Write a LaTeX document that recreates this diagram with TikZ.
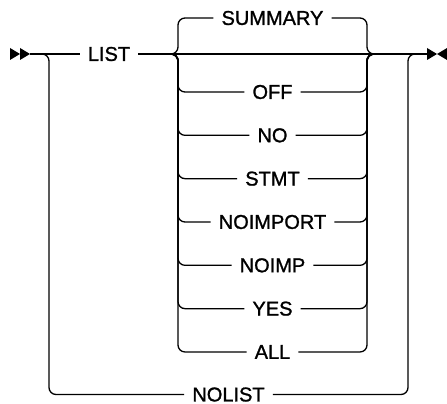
\documentclass[tikz,border=0pt]{standalone}
\usepackage{fontspec}
\newfontfamily\railfont{Liberation Sans}[FakeBold=1.2]
\usetikzlibrary{positioning}

\begin{document}
\begin{tikzpicture}[
  x=1pt, y=-1pt,
  font=\railfont\fontsize{20}{22}\selectfont,
  rail/.style={draw=black, line width=1.3pt, rounded corners=7pt},
  keyword/.style={inner xsep=8pt, inner ysep=0pt},
  marker/.style={fill=black}
]
  \useasboundingbox (0,0) rectangle (447,404);
  \coordinate (start) at (30,54);
  \coordinate (stop) at (427,54);
  \node[keyword] (list) at (109,54) {LIST};
  \node[keyword] (summary) at (272.5,18) {SUMMARY};
  \node[keyword] (nolist) at (228.5,394.5) {NOLIST};
  % main line
  \draw[rail] (start) -- (list.west);
  \draw[rail] (list.east) -- (stop);
  % default above the main line
  \draw[rail] (171,54) -- (178,54) -- (178,18) -- (summary.west);
  \draw[rail] (summary.east) -- (367,18) -- (367,54) -- (374,54);
  % choices below
  \foreach \opt [count=\i] in {OFF,NO,STMT,NOIMPORT,NOIMP,YES,ALL} {
    \pgfmathsetmacro\rowy{92+(\i-1)*43.33}
    \node[keyword] (opt\i) at (272.5,\rowy) {\opt};
    \draw[rail] (171,54) -- (178,54) -- (178,\rowy) -- (opt\i.west);
    \draw[rail] (opt\i.east) -- (367,\rowy) -- (367,54) -- (374,54);
  }
  % bypass
  \draw[rail] (31,54) -- (49,54) -- (49,394.5) -- (nolist.west);
  \draw[rail] (nolist.east) -- (408,394.5) -- (408,54) -- (426,54);
  % start and end markers
  \fill[marker] (start) -- ++(-10,-6) -- ++(0,12) -- cycle;
  \fill[marker] ([xshift=-10pt]start) -- ++(-10,-6) -- ++(0,12) -- cycle;
  \fill[marker] ([xshift=10pt]stop) -- ++(-10,-6) -- ++(0,12) -- cycle;
  \fill[marker] ([xshift=10pt]stop) -- ++(10,-6) -- ++(0,12) -- cycle;
\end{tikzpicture}
\end{document}
